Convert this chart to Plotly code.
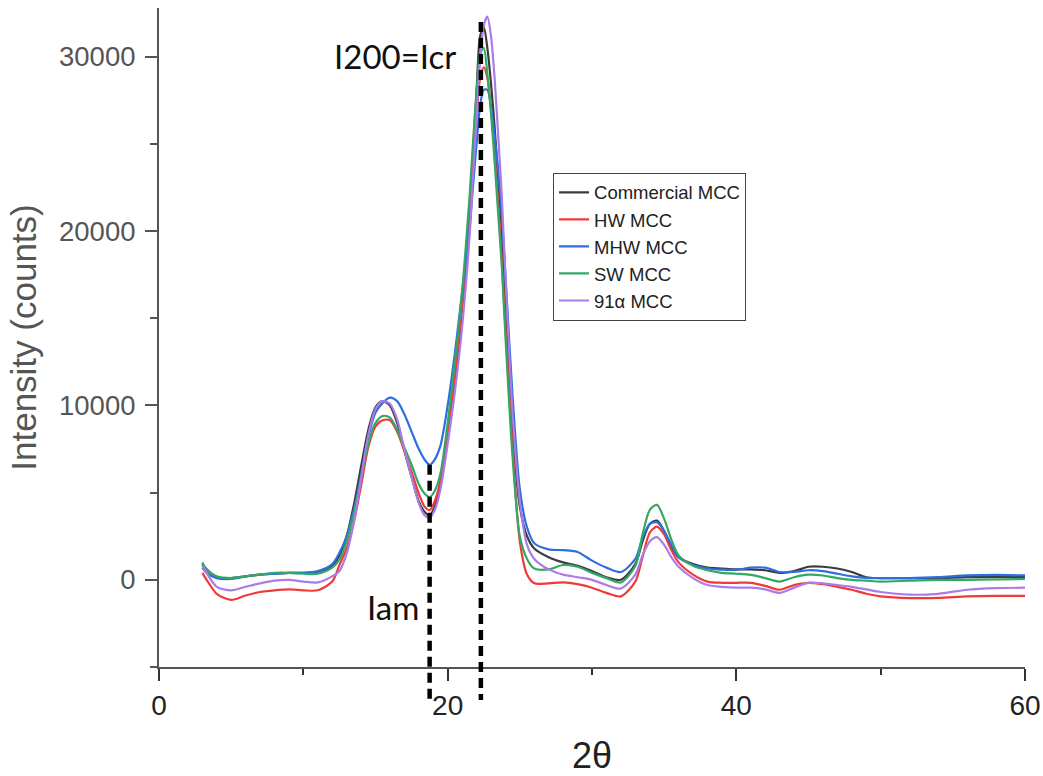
import plotly.graph_objects as go

two_theta = [3.0, 3.3, 4, 5, 6, 7, 8, 9, 10, 11,
             12, 12.5, 13, 13.5, 14, 14.5, 15, 15.5, 16, 16.5,
             17, 17.5, 18, 18.4, 18.75, 19.1, 19.5, 20, 20.5, 21,
             21.5, 21.75, 22, 22.25, 22.5, 22.75, 23, 23.25, 23.5, 23.75,
             24, 24.5, 25, 25.5, 26, 27, 28, 29, 30, 31,
             32, 33, 33.5, 34, 34.5, 35, 35.5, 36, 37, 38,
             39, 40, 41, 42, 43, 44, 45, 46, 47, 48,
             49, 50, 52, 54, 56, 58, 60]

commercial_mcc = [900, 600, 150, 100, 200, 300, 350, 400, 400, 450,
                  800, 1400, 2500, 4300, 6500, 8600, 9900, 10250, 10000, 9000,
                  7400, 5900, 4500, 3900, 3700, 4200, 5500, 8500, 11500, 15500,
                  21000, 24500, 28000, 31200, 31700, 30500, 28500, 26000, 23000, 20000,
                  15500, 8500, 4200, 2500, 1800, 1300, 1000, 800, 500, 150,
                  0, 900, 2200, 3200, 3400, 2800, 1900, 1300, 900, 700,
                  650, 600, 600, 550, 400, 500, 750, 750, 650, 450,
                  150, 100, 100, 100, 150, 150, 150]

hw_mcc = [400, 0, -800, -1150, -900, -700, -600, -550, -600, -600,
          -100, 850, 1800, 3300, 5400, 7600, 8800, 9150, 9150, 8500,
          7400, 6200, 4950, 4200, 4000, 4500, 5700, 8500, 11800, 15800,
          20500, 23500, 26500, 28800, 29400, 28800, 27000, 24500, 21500, 18300,
          14500, 7500, 2200, 300, -200, -200, -150, -250, -450, -750,
          -950, -100, 1300, 2700, 3050, 2600, 1700, 1000, 300, -100,
          -170, -170, -170, -350, -570, -300, -170, -250, -400, -570,
          -800, -950, -1050, -1030, -950, -920, -920]

mhw_mcc = [700, 400, 100, 50, 200, 300, 350, 400, 400, 500,
           900, 1550, 2500, 4000, 6000, 8200, 9600, 10150, 10450, 10250,
           9500, 8500, 7500, 6900, 6600, 6900, 7700, 10000, 13000, 16500,
           20000, 22500, 25000, 27200, 28100, 28100, 27200, 25500, 23500, 21000,
           17500, 10500, 5200, 3000, 2100, 1750, 1700, 1600, 1100, 700,
           450, 1200, 2400, 3200, 3300, 2800, 2000, 1300, 850, 650,
           580, 570, 700, 700, 450, 450, 550, 500, 350, 200,
           110, 100, 100, 150, 250, 280, 250]

sw_mcc = [1000, 600, 200, 100, 200, 300, 400, 400, 350, 350,
          700, 1150, 2200, 3800, 5800, 7800, 9000, 9400, 9300, 8600,
          7600, 6600, 5500, 4950, 4750, 5100, 6100, 9000, 12500, 16500,
          21800, 25000, 28000, 30200, 30500, 29000, 26800, 24000, 21000, 18000,
          14000, 7000, 2500, 1200, 650, 600, 850, 750, 400, 100,
          -150, 800, 2600, 4000, 4300, 3500, 2300, 1400, 800, 550,
          400, 350, 280, 100, -100, 150, 300, 250, 100, 0,
          -50, -100, -50, 0, 0, 20, 50]

mcc_91a = [800, 400, -400, -600, -400, -200, -50, 0, -100, -150,
           200, 500, 1500, 3300, 5800, 8300, 9800, 10250, 10100, 9200,
           7500, 5900, 4400, 3700, 3550, 4000, 5200, 7800, 10800, 14500,
           19500, 23000, 26500, 29800, 31800, 32300, 31200, 28800, 25500, 22000,
           17500, 9500, 4500, 2000, 1200, 600, 300, 150, 0, -300,
           -500, 300, 1400, 2200, 2450, 2000, 1300, 750, 100, -300,
           -400, -450, -450, -550, -750, -450, -170, -200, -300, -400,
           -550, -700, -850, -800, -570, -480, -450]

series_names = ["Commercial MCC", "HW MCC", "MHW MCC", "SW MCC", "91\u03b1 MCC"]
series_values = [commercial_mcc, hw_mcc, mhw_mcc, sw_mcc, mcc_91a]
series_colors = ["#3c3c3c", "#f03a3a", "#2d6fe0", "#33a866", "#ab7be6"]

x_range = [0, 60]
y_range = [-5000, 32800]

# reference markers: (x, top value)
iam_x, iam_top = 18.75, 6600
icr_x, icr_top = 22.3, 32000

fig = go.Figure()
for name, vals, col in zip(series_names, series_values, series_colors):
    fig.add_trace(go.Scatter(x=two_theta, y=vals, mode="lines", name=name,
                             line=dict(color=col, width=2.2, shape="spline", smoothing=0.8)))

def to_paper(v):
    return (v - y_range[0]) / (y_range[1] - y_range[0])

for xv, top in [(iam_x, iam_top), (icr_x, icr_top)]:
    fig.add_shape(type="line", xref="x", yref="paper", x0=xv, x1=xv,
                  y0=to_paper(top), y1=-0.05,
                  line=dict(color="black", width=4.5, dash="10px,6px"))

fig.add_annotation(x=16.35, y=30060, xref="x", yref="y", text="I200=Icr", showarrow=False,
                   font=dict(family="Lato", size=33, color="#111"))
fig.add_annotation(x=16.2, y=-1550, xref="x", yref="y", text="Iam", showarrow=False,
                   font=dict(family="Lato", size=33, color="#111"))

fig.update_layout(
    width=1043, height=776,
    margin=dict(l=159, r=18, t=8, b=109),
    paper_bgcolor="white", plot_bgcolor="white",
    showlegend=True,
    legend=dict(x=0.455, y=0.75, xanchor="left", yanchor="top",
                bgcolor="white", bordercolor="#444", borderwidth=1,
                font=dict(family="Liberation Sans, Arial", size=18.5, color="#222"),
                tracegroupgap=0, itemwidth=30),
    xaxis=dict(range=x_range, showgrid=False, zeroline=False, automargin=False,
               showline=True, linecolor="#555", linewidth=2,
               ticks="outside", ticklen=12, tickwidth=2, tickcolor="#333",
               tickvals=[0, 20, 40, 60],
               minor=dict(tickvals=[10, 30, 50], ticks="outside", ticklen=6, tickwidth=2, tickcolor="#333"),
               tickfont=dict(family="Liberation Sans, Arial", size=28, color="#222"),
               ticklabelstandoff=0,
               title=dict(text="2\u03b8", font=dict(family="Liberation Sans, Arial", size=36, color="#222"),
                          standoff=24)),
    yaxis=dict(range=y_range, showgrid=False, zeroline=False, automargin=False,
               showline=True, linecolor="#555", linewidth=2,
               ticks="outside", ticklen=12, tickwidth=2, tickcolor="#555",
               tickvals=[0, 10000, 20000, 30000], tickformat="d",
               minor=dict(tickvals=[-5000, 5000, 15000, 25000], ticks="outside", ticklen=7, tickwidth=2, tickcolor="#555"),
               tickfont=dict(family="Liberation Sans, Arial", size=27.5, color="#555"),
               ticklabelstandoff=4,
               title=dict(text="Intensity (counts)", font=dict(family="Liberation Sans, Arial", size=35, color="#555"),
                          standoff=12)),
)

fig.write_html("out.html")
